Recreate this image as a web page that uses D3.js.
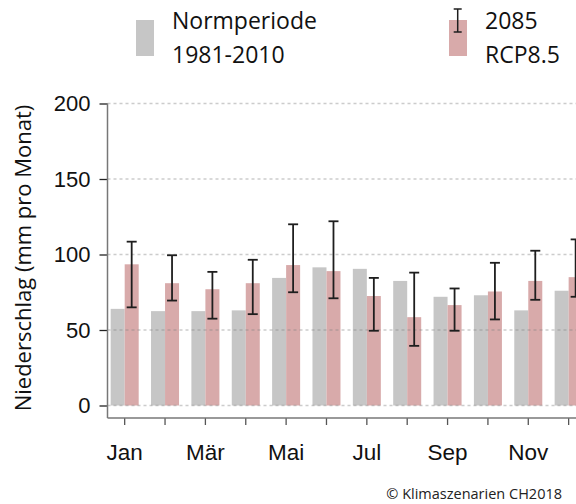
<!DOCTYPE html>
<html>
<head>
<meta charset="utf-8">
<script src="https://cdn.jsdelivr.net/npm/d3@7"></script>
<style>
  body { margin: 0; background: #fff; }
  svg { display: block; font-family: "Open Sans", "Noto Sans", sans-serif; }
</style>
</head>
<body>
<svg id="chart" width="576" height="504"></svg>
<script>
// monthly precipitation (mm per month)
var months = ["Jan","Feb","Mär","Apr","Mai","Jun","Jul","Aug","Sep","Okt","Nov","Dez"]
var normValues = [64, 62.5, 62.5, 63, 84.5, 91.5, 90.5, 82.5, 72, 73, 63, 76]
var rcpValues = [93.5, 81, 77, 81, 93, 89, 72.5, 58.5, 66.5, 75.5, 82.5, 85]
var rcpLow = [65, 69.5, 57.5, 60.5, 75, 71, 49.5, 39.5, 49.5, 57, 70, 72]
var rcpHigh = [108.5, 99.5, 88.5, 96.5, 120, 122, 84.5, 88, 77.5, 94.5, 102.5, 110]
var yTicks = [0, 50, 100, 150, 200]
var labelMonths = ["Jan","Mär","Mai","Jul","Sep","Nov"]

var grey = "#c6c6c6"
var pink = "#d8aaaa"

var svg = d3.select("#chart")

var axisX = 107.5, axisBottom = 418

var xScale = d3.scaleBand()
    .domain(months)
    .range([104.5, 104.5 + 12*40.36])
    .paddingInner(0.306)
    .paddingOuter(0.153)

var subScale = d3.scaleBand()
    .domain(["norm","rcp"])
    .range([0, xScale.bandwidth()])

var yScale = d3.scaleLinear()
    .domain([0, 200])
    .range([405.5, 103.5])

var drawBars = function() {
    var g = svg.append("g")
    g.selectAll("rect.norm")
      .data(months)
      .enter()
      .append("rect")
        .attr("x", d => xScale(d) + subScale("norm"))
        .attr("y", (d,i) => yScale(normValues[i]))
        .attr("width", subScale.bandwidth())
        .attr("height", (d,i) => yScale(0) - yScale(normValues[i]))
        .attr("fill", grey)
    g.selectAll("rect.rcp")
      .data(months)
      .enter()
      .append("rect")
        .attr("x", d => xScale(d) + subScale("rcp"))
        .attr("y", (d,i) => yScale(rcpValues[i]))
        .attr("width", subScale.bandwidth())
        .attr("height", (d,i) => yScale(0) - yScale(rcpValues[i]))
        .attr("fill", pink)
}

var drawGrid = function() {
    svg.append("g").selectAll("line")
      .data(yTicks)
      .enter()
      .append("line")
        .attr("x1", axisX)
        .attr("x2", 576)
        .attr("y1", d => yScale(d))
        .attr("y2", d => yScale(d))
        .attr("stroke", "#808080")
        .attr("stroke-opacity", 0.4)
        .attr("stroke-width", 1.3)
        .attr("stroke-dasharray", "3,3")
}

var drawErrors = function() {
    var cap = 5
    var g = svg.append("g").attr("stroke", "#1e1e1e").attr("stroke-width", 1.8)
    var cx = d => xScale(d) + subScale("rcp") + subScale.bandwidth()/2
    g.selectAll("line.v")
      .data(months)
      .enter()
      .append("line")
        .attr("x1", cx).attr("x2", cx)
        .attr("y1", (d,i) => yScale(rcpLow[i]))
        .attr("y2", (d,i) => yScale(rcpHigh[i]))
    g.selectAll("line.top")
      .data(months)
      .enter()
      .append("line")
        .attr("x1", d => cx(d) - cap).attr("x2", d => cx(d) + cap)
        .attr("y1", (d,i) => yScale(rcpHigh[i]))
        .attr("y2", (d,i) => yScale(rcpHigh[i]))
    g.selectAll("line.bot")
      .data(months)
      .enter()
      .append("line")
        .attr("x1", d => cx(d) - cap).attr("x2", d => cx(d) + cap)
        .attr("y1", (d,i) => yScale(rcpLow[i]))
        .attr("y2", (d,i) => yScale(rcpLow[i]))
}

var drawAxes = function() {
    var yAxis = d3.axisLeft(yScale)
        .tickValues(yTicks)
        .tickSize(8)
        .tickPadding(9)
    var gy = svg.append("g")
        .attr("transform", "translate(" + axisX + ",0)")
        .call(yAxis)
    gy.select(".domain").remove()
    gy.selectAll(".tick line").attr("stroke", "#222").attr("stroke-width", 1.3)
    gy.selectAll("text").style("font-size", "22px").attr("fill", "#111")

    var xAxis = d3.axisBottom(xScale)
        .tickSize(7)
        .tickSizeOuter(0)
        .tickPadding(19)
        .tickFormat(d => labelMonths.indexOf(d) >= 0 ? d : "")
    var gx = svg.append("g")
        .attr("transform", "translate(0," + axisBottom + ")")
        .call(xAxis)
    gx.select(".domain").remove()
    gx.selectAll(".tick line").attr("stroke", "#555").attr("stroke-width", 1.3)
    gx.selectAll("text").style("font-size", "22.5px").attr("fill", "#111")

    // axis spines
    svg.append("line")
        .attr("x1", axisX).attr("x2", axisX)
        .attr("y1", yScale(200)).attr("y2", axisBottom)
        .attr("stroke", "#777").attr("stroke-width", 1.5)
    svg.append("line")
        .attr("x1", axisX).attr("x2", 576)
        .attr("y1", axisBottom).attr("y2", axisBottom)
        .attr("stroke", "#777").attr("stroke-width", 1.5)
}

var drawLabels = function() {
    svg.append("text")
        .attr("transform", "translate(31,258) rotate(-90)")
        .attr("text-anchor", "middle")
        .style("font-size", "22px")
        .attr("fill", "#111")
        .text("Niederschlag (mm pro Monat)")

    svg.append("text")
        .attr("x", 562)
        .attr("y", 499)
        .attr("text-anchor", "end")
        .style("font-size", "14.5px")
        .attr("fill", "#222")
        .text("© Klimaszenarien CH2018")
}

var drawLegend = function() {
    svg.append("rect")
        .attr("x", 136).attr("y", 20)
        .attr("width", 18).attr("height", 36)
        .attr("fill", grey)
    svg.append("text").attr("x", 172).attr("y", 29)
        .style("font-size", "23px").attr("fill", "#111").text("Normperiode")
    svg.append("text").attr("x", 172).attr("y", 63)
        .style("font-size", "23px").attr("fill", "#111").text("1981-2010")

    svg.append("rect")
        .attr("x", 449).attr("y", 20)
        .attr("width", 18).attr("height", 36)
        .attr("fill", pink)
    var lg = svg.append("g").attr("stroke", "#1e1e1e").attr("stroke-width", 1.5)
    lg.append("line").attr("x1", 457.7).attr("x2", 457.7).attr("y1", 9).attr("y2", 32)
    lg.append("line").attr("x1", 453.7).attr("x2", 461.7).attr("y1", 9).attr("y2", 9)
    lg.append("line").attr("x1", 453.7).attr("x2", 461.7).attr("y1", 32).attr("y2", 32)
    svg.append("text").attr("x", 485).attr("y", 29)
        .style("font-size", "23px").attr("fill", "#111").text("2085")
    svg.append("text").attr("x", 485).attr("y", 63)
        .style("font-size", "23px").attr("fill", "#111").text("RCP8.5")
}

drawBars()
drawGrid()
drawErrors()
drawAxes()
drawLabels()
drawLegend()
</script>
</body>
</html>
